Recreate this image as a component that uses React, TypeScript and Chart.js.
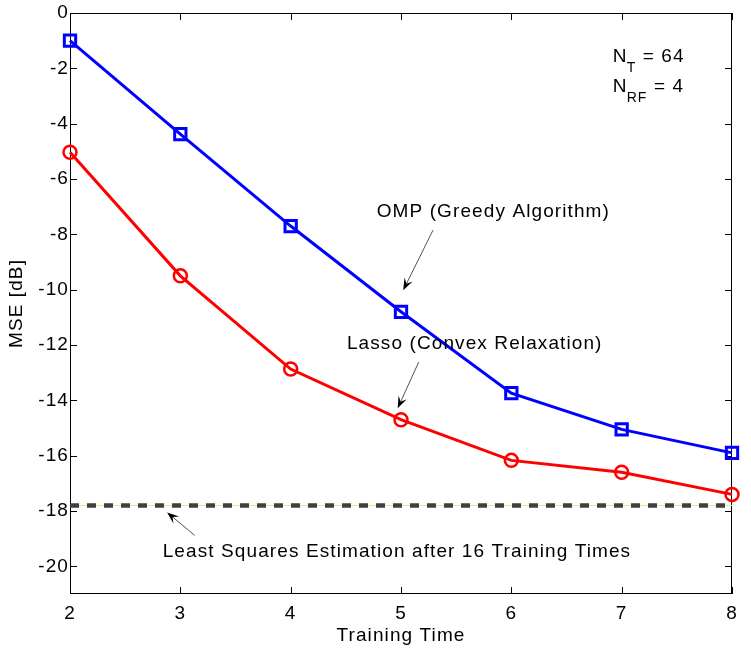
import React, { useEffect, useRef } from "react";
import { Chart, registerables } from "chart.js";

Chart.register(...registerables);

// ---- data ----
const trainingTimes = [2, 3, 4, 5, 6, 7, 8];
const ompMse = [-1.0, -4.38, -7.7, -10.8, -13.74, -15.05, -15.9];
const lassoMse = [-5.03, -9.5, -12.87, -14.7, -16.17, -16.6, -17.4];
const lsMse = -17.8;
const xTicks = [2, 3, 4, 5, 6, 7, 8];
const yTicks = [0, -2, -4, -6, -8, -10, -12, -14, -16, -18, -20];
const xRange = [2, 8];
const yRange = [-21, 0];

// annotations (data coordinates)
const ompText = { text: "OMP (Greedy Algorithm)", x: 4.78, y: -7.38 };
const ompArrow = { x1: 5.29, y1: -7.85, x2: 5.02, y2: -10.02 };
const lassoText = { text: "Lasso (Convex Relaxation)", x: 4.51, y: -12.15 };
const lassoArrow = { x1: 5.16, y1: -12.62, x2: 4.97, y2: -14.29 };
const lsText = { text: "Least Squares Estimation after 16 Training Times", x: 2.84, y: -19.67 };
const lsArrow = { x1: 3.13, y1: -18.88, x2: 2.88, y2: -18.05 };
const paramLines = [
  { main: "N", sub: "T", rest: " = 64", x: 6.92, y: -1.77 },
  { main: "N", sub: "RF", rest: " = 4", x: 6.92, y: -2.86 },
];

const FONT = "'Liberation Sans', Arial, Helvetica, sans-serif";
const SPACING = "1.1px";

function drawArrow(ctx: CanvasRenderingContext2D, x1: number, y1: number, x2: number, y2: number) {
  const ang = Math.atan2(y2 - y1, x2 - x1);
  const headLen = 12;
  const headW = 4.5;
  ctx.save();
  ctx.strokeStyle = "#555";
  ctx.lineWidth = 1;
  ctx.beginPath();
  ctx.moveTo(x1, y1);
  ctx.lineTo(x2 - Math.cos(ang) * headLen * 0.6, y2 - Math.sin(ang) * headLen * 0.6);
  ctx.stroke();
  ctx.fillStyle = "#000";
  ctx.beginPath();
  ctx.moveTo(x2, y2);
  ctx.lineTo(
    x2 - Math.cos(ang) * headLen + Math.sin(ang) * headW,
    y2 - Math.sin(ang) * headLen - Math.cos(ang) * headW
  );
  ctx.lineTo(x2 - Math.cos(ang) * headLen * 0.6, y2 - Math.sin(ang) * headLen * 0.6);
  ctx.lineTo(
    x2 - Math.cos(ang) * headLen - Math.sin(ang) * headW,
    y2 - Math.sin(ang) * headLen + Math.cos(ang) * headW
  );
  ctx.closePath();
  ctx.fill();
  ctx.restore();
}

const framePlugin = {
  id: "frame",
  beforeLayout(chart: any) {
    chart.ctx.letterSpacing = SPACING;
  },
  beforeDraw(chart: any) {
    const ctx = chart.ctx;
    ctx.save();
    ctx.fillStyle = "#fff";
    ctx.fillRect(0, 0, chart.width, chart.height);
    ctx.restore();
    ctx.letterSpacing = SPACING;
  },
  beforeDatasetsDraw(chart: any) {
    const { ctx, chartArea: a, scales } = chart;
    ctx.save();
    ctx.strokeStyle = "#000";
    ctx.lineWidth = 1;
    ctx.strokeRect(a.left + 0.5, a.top + 0.5, a.right - a.left - 1, a.bottom - a.top - 1);
    const tl = 7;
    ctx.beginPath();
    for (const v of xTicks) {
      const px = Math.round(scales.x.getPixelForValue(v)) + 0.5;
      ctx.moveTo(px, a.bottom);
      ctx.lineTo(px, a.bottom - tl);
      ctx.moveTo(px, a.top);
      ctx.lineTo(px, a.top + tl);
    }
    for (const v of yTicks) {
      const py = Math.round(scales.y.getPixelForValue(v)) + 0.5;
      ctx.moveTo(a.left, py);
      ctx.lineTo(a.left + tl, py);
      ctx.moveTo(a.right, py);
      ctx.lineTo(a.right - tl, py);
    }
    ctx.stroke();
    ctx.restore();
  },
  afterDraw(chart: any) {
    const { ctx, scales } = chart;
    const X = (v: number) => scales.x.getPixelForValue(v);
    const Y = (v: number) => scales.y.getPixelForValue(v);
    ctx.save();
    ctx.letterSpacing = SPACING;
    ctx.fillStyle = "#000";
    ctx.textAlign = "left";
    ctx.textBaseline = "alphabetic";
    ctx.font = `19px ${FONT}`;
    for (const t of [ompText, lassoText, lsText]) {
      ctx.fillText(t.text, X(t.x), Y(t.y));
    }
    for (const a of [ompArrow, lassoArrow, lsArrow]) {
      drawArrow(ctx, X(a.x1), Y(a.y1), X(a.x2), Y(a.y2));
    }
    for (const p of paramLines) {
      let x = X(p.x);
      const y = Y(p.y);
      ctx.font = `19px ${FONT}`;
      ctx.fillText(p.main, x, y);
      x += ctx.measureText(p.main).width - 1;
      ctx.font = `14px ${FONT}`;
      ctx.fillText(p.sub, x, y + 10);
      x += ctx.measureText(p.sub).width;
      ctx.font = `19px ${FONT}`;
      ctx.fillText(p.rest, x, y);
    }
    ctx.restore();
  },
};

export default function App() {
  const canvasRef = useRef<HTMLCanvasElement | null>(null);

  useEffect(() => {
    const canvas = canvasRef.current;
    if (!canvas) return;
    const tickFont = { family: FONT, size: 19 };
    const chart = new Chart(canvas, {
      type: "line",
      data: {
        datasets: [
          {
            label: "OMP (Greedy Algorithm)",
            data: trainingTimes.map((x, i) => ({ x, y: ompMse[i] })),
            borderColor: "#0000ff",
            borderWidth: 3,
            pointStyle: "rect",
            pointRadius: 8,
            pointBorderWidth: 3,
            pointBorderColor: "#0000ff",
            pointBackgroundColor: "rgba(0,0,0,0)",
            clip: false as any,
          },
          {
            label: "Lasso (Convex Relaxation)",
            data: trainingTimes.map((x, i) => ({ x, y: lassoMse[i] })),
            borderColor: "#ff0000",
            borderWidth: 3,
            pointStyle: "circle",
            pointRadius: 6.5,
            pointBorderWidth: 2.5,
            pointBorderColor: "#ff0000",
            pointBackgroundColor: "rgba(0,0,0,0)",
            clip: false as any,
          },
          {
            label: "Least Squares",
            data: xRange.map((x) => ({ x, y: lsMse })),
            borderColor: "#404040",
            borderWidth: 4.5,
            borderDash: [9, 8],
            borderCapStyle: "butt",
            pointRadius: 0,
            clip: false as any,
          },
          {
            label: "LS guide",
            data: xRange.map((x) => ({ x, y: lsMse })),
            borderColor: "#e6e29a",
            borderWidth: 1,
            pointRadius: 0,
            clip: false as any,
          },
        ],
      },
      options: {
        responsive: false,
        animation: false,
        events: [],
        layout: { padding: { left: 0, top: 13, right: 19, bottom: 0 } },
        plugins: {
          legend: { display: false },
          tooltip: { enabled: false },
          title: { display: false },
        },
        scales: {
          x: {
            type: "linear",
            min: xRange[0],
            max: xRange[1],
            afterBuildTicks: (s: any) => {
              s.ticks = xTicks.map((value) => ({ value }));
            },
            afterFit: (s: any) => {
              s.height = 55;
            },
            grid: { display: false, drawTicks: false },
            border: { display: false },
            ticks: { color: "#000", font: tickFont, padding: 8, maxRotation: 0, autoSkip: false },
            title: {
              display: true,
              text: "Training Time",
              color: "#000",
              font: { family: FONT, size: 19 },
              padding: { top: 0, bottom: 2 },
            },
          },
          y: {
            type: "linear",
            min: yRange[0],
            max: yRange[1],
            afterBuildTicks: (s: any) => {
              s.ticks = yTicks.map((value) => ({ value }));
            },
            afterFit: (s: any) => {
              s.width = 70;
            },
            grid: { display: false, drawTicks: false },
            border: { display: false },
            ticks: { color: "#000", font: tickFont, padding: 1, autoSkip: false },
            title: {
              display: true,
              text: "MSE [dB]",
              color: "#000",
              font: { family: FONT, size: 19 },
              padding: { top: 5, bottom: 0 },
            },
          },
        },
      },
      plugins: [framePlugin],
    } as any);
    return () => chart.destroy();
  }, []);

  return (
    <div style={{ position: "absolute", left: 0, top: 0, width: 751, height: 649, background: "#fff" }}>
      <canvas ref={canvasRef} width={751} height={649} style={{ display: "block" }} />
    </div>
  );
}
